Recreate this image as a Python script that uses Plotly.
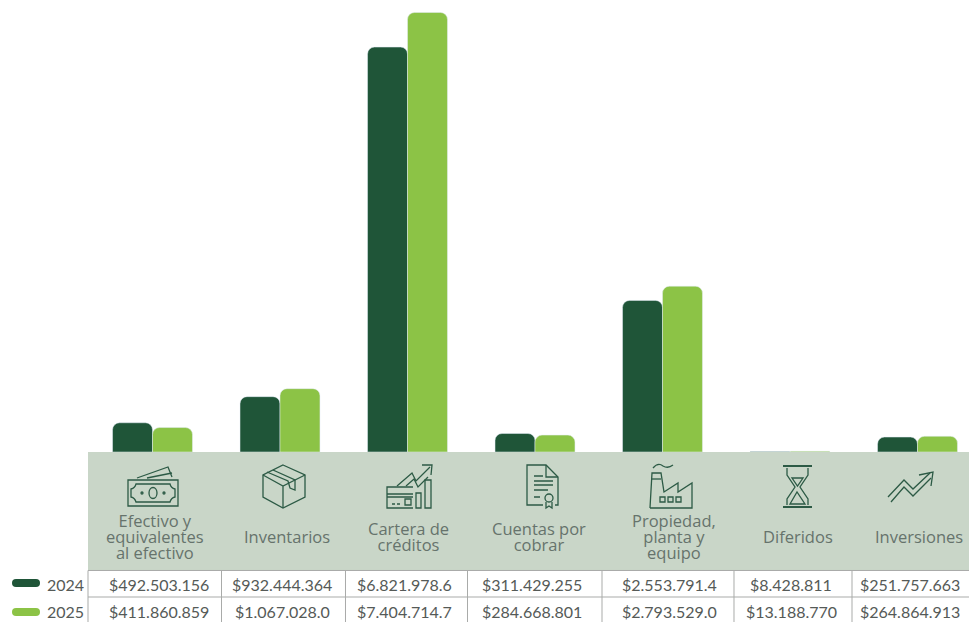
import re
import plotly.graph_objects as go

categories = ["Efectivo y equivalentes al efectivo", "Inventarios", "Cartera de créditos",
              "Cuentas por cobrar", "Propiedad, planta y equipo", "Diferidos", "Inversiones"]
label_lines = [["Efectivo y", "equivalentes", "al efectivo"], ["Inventarios"], ["Cartera de", "créditos"],
               ["Cuentas por", "cobrar"], ["Propiedad,", "planta y", "equipo"], ["Diferidos"], ["Inversiones"]]
values_2024 = [492.503156, 932.444364, 6821.9786, 311.429255, 2553.7914, 8.428811, 251.757663]
values_2025 = [411.860859, 1067.0280, 7404.7147, 284.668801, 2793.5290, 13.188770, 264.864913]
text_2024 = ["$492.503.156", "$932.444.364", "$6.821.978.6", "$311.429.255", "$2.553.791.4", "$8.428.811", "$251.757.663"]
text_2025 = ["$411.860.859", "$1.067.028.0", "$7.404.714.7", "$284.668.801", "$2.793.529.0", "$13.188.770", "$264.864.913"]

W, H = 969, 622
DARK, LIGHT = "#1f5538", "#8cc346"
BAND, GRID = "#c9d6c8", "#a9aba9"
ICON, TXT, NUM = "#2c5a45", "#66736c", "#555a57"
FONT = "Lato"
LABEL_FONT = "Open Sans"
col_edges = [88, 221.5, 345.5, 467.5, 602, 734, 852, 969]
row_edges = [570.5, 597, 622]
label_cx = [155, 287, 408, 539, 674, 798, 919]
num_cx = [159, 282, 404, 532, 669, 791, 910]


def px(x, y):
    return x / W, 1 - y / H


def path(d):
    def sub(m):
        a, b = px(float(m.group(1)), float(m.group(2)))
        return f"{a:.5f},{b:.5f}"
    return re.sub(r"(-?[\d.]+)[ ,](-?[\d.]+)", sub, d)


fig = go.Figure()
fig.add_bar(x=categories, y=values_2024, marker_color=DARK, name="2024", hoverinfo="skip")
fig.add_bar(x=categories, y=values_2025, marker_color=LIGHT, name="2025", hoverinfo="skip")

shapes, ann = [], []


def line_path(d, w=1.3, color=ICON):
    shapes.append(dict(type="path", xref="paper", yref="paper", path=path(d), line=dict(color=color, width=w)))


def ell(cx, cy, rx, ry, w=1.3, fill=None):
    x0, y0 = px(cx - rx, cy - ry)
    x1, y1 = px(cx + rx, cy + ry)
    s = dict(type="circle", xref="paper", yref="paper", x0=x0, x1=x1, y0=y0, y1=y1,
             line=dict(color=ICON, width=w))
    if fill:
        s["fillcolor"] = fill
        s["line"] = dict(width=0)
    shapes.append(s)


def rect(x0, y0, x1, y1, fill):
    a, b = px(x0, y0)
    c, d = px(x1, y1)
    shapes.append(dict(type="rect", xref="paper", yref="paper", x0=a, x1=c, y0=b, y1=d,
                       fillcolor=fill, line=dict(width=0)))


def text(x, y, s, size, color, family=FONT):
    a, b = px(x, y)
    ann.append(dict(xref="paper", yref="paper", x=a, y=b, text=s, showarrow=False, xanchor="center", yanchor="middle",
                    font=dict(family=family, size=size, color=color)))


rect(88, 452, 969, 570.5, BAND)

# table grid
for x in col_edges[:-1]:
    line_path(f"M{x} 570.5 L{x} 622", 1, GRID)
for y in row_edges[:2]:
    line_path(f"M88 {y} L969 {y}", 1, GRID)

# legend swatches
for y, c, lab, ty in [(583, DARK, "2024", 584), (612, LIGHT, "2025", 611)]:
    rect(16, y - 4, 36, y + 4, c)
    ell(16, y, 4, 4, fill=c)
    ell(36, y, 4, 4, fill=c)
    text(65, ty, lab, 16, NUM)

# icons: cash
line_path("M128 480 L178 480 L178 506 L128 506 Z")
line_path("M136 484 L170 484 Q171 488 175 489 L175 497 Q171 498 170 502 L136 502 Q135 498 131 497 L131 489 Q135 488 136 484 Z")
ell(153, 493, 4, 5.5)
ell(142, 493, 1, 1)
ell(164, 493, 1, 1)
line_path("M137 478 L168 467 L172 477")
line_path("M147 478 L172 473")
# box
line_path("M283 465 L305 475 L305 497 L283 508 L263 497 L263 475 Z")
line_path("M263 475 L283 486 L305 475 M283 486 L283 508")
line_path("M273 470 L295 480 L295 490 L290 488 L288 481 L267 472")
# credit card
line_path("M413 487 L387 487 L387 508 L413 508")
line_path("M387 494 L413 494 M387 497 L413 497 M392 504 L395 504 M397 504 L400 504")
line_path("M405 499 L411 499 L411 505 L405 505 Z")
line_path("M416 493 L421 493 L421 508 L416 508 Z M425 480 L431 480 L431 508 L425 508 Z")
line_path("M397 486 L412 473 L416 481 L430 467 M422 465 L432 465 L431 475")
line_path("M406 486 L414 479 L418 487 L428 477")
# document
line_path("M543 505 L527 505 L527 465 L546 465 L558 477 L558 505 L555 505")
line_path("M546 465 L546 477 L558 477")
line_path("M534 476 L543 476 M534 481 L553 481 M534 485 L553 485 M534 490 L548 490 M534 497 L540 497")
ell(549, 498, 4, 4)
line_path("M546 502 L546 508 L549 506 L552 508 L552 502")
# factory
line_path("M650 508 L692 508 L692 483 L678 492 L678 483 L664 492 L661 473 L652 473 L650 508")
line_path("M652 479 L661 479")
line_path("M653 468 Q658 462 663 466 Q668 469 673 465")
line_path("M660 497 L665 497 L665 502 L660 502 Z M668 497 L673 497 L673 502 L668 502 Z M676 497 L681 497 L681 502 L676 502 Z")
# hourglass
line_path("M783 466 L812 466 M783 507 L812 507", 2.2)
line_path("M787 468 L787 475 L795 487 L787 499 L787 505 M808 468 L808 475 L800 487 L808 499 L808 505")
line_path("M790 504 L797 492 L805 504 Z M792 478 L803 478 L797.5 486 Z")
# trend
line_path("M888 497 L904 480 L913 489 L930 473")
line_path("M891 502 L904 487 L913 496 L931 478")
line_path("M919 475 L933 472 L931 486")

# category labels: one text per label; small base size sets the tight line pitch
for cx, lines in zip(label_cx, label_lines):
    s = "<br>".join(f"<span style='font-size:16.5px'>{t}</span>" for t in lines)
    text(cx, 536, s, 12.3, TXT, LABEL_FONT)

# table numbers
for i in range(7):
    text(num_cx[i], 584, text_2024[i], 16, NUM)
    text(num_cx[i], 611, text_2025[i], 16, NUM)

fig.update_layout(
    width=W, height=H, margin=dict(l=0, r=0, t=0, b=0), autosize=False,
    paper_bgcolor="white", plot_bgcolor="white", showlegend=False,
    barmode="group", bargap=0.373, bargroupgap=0, barcornerradius=7,
    shapes=shapes, annotations=ann,
    xaxis=dict(domain=[88.75 / W, 1], range=[-0.5, 6.404], visible=False, categoryorder="array", categoryarray=categories),
    yaxis=dict(domain=[(H - 452) / H, 1], range=[0, 7615], visible=False),
)
fig.write_html("out.html", config=dict(displayModeBar=False),
               post_script="document.body.style.margin='0';document.body.style.overflow='hidden';")
